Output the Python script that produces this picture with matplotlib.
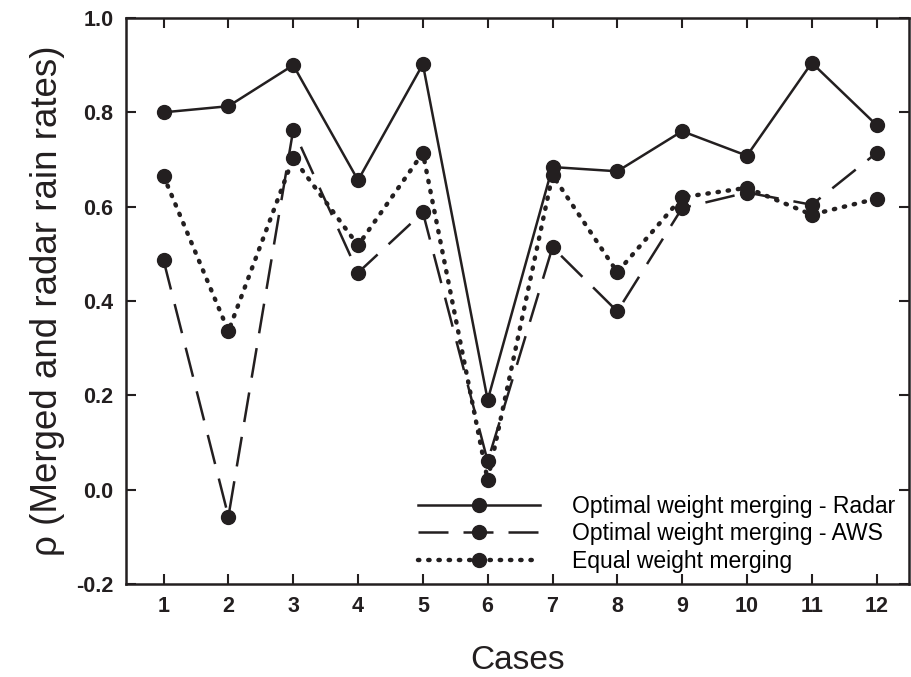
import matplotlib.pyplot as plt
import numpy as np

cases = list(range(1, 13))
radar = [0.80, 0.813, 0.90, 0.656, 0.902, 0.19, 0.684, 0.675, 0.76, 0.708, 0.905, 0.773]
aws = [0.486, -0.057, 0.763, 0.46, 0.588, 0.06, 0.514, 0.378, 0.597, 0.63, 0.604, 0.714]
equal = [0.665, 0.336, 0.703, 0.518, 0.714, 0.02, 0.667, 0.461, 0.62, 0.64, 0.583, 0.617]

labels = ["Optimal weight merging - Radar",
          "Optimal weight merging - AWS",
          "Equal weight merging"]

plt.rcParams['font.family'] = ['Liberation Sans', 'DejaVu Sans']
col = '#231f20'

fig = plt.figure(figsize=(9.11, 6.77), dpi=100)
ax = fig.add_axes([126 / 911, 1 - 584 / 677, (909 - 126) / 911, (584 - 18) / 677])

ax.plot(cases, radar, color=col, lw=1.8, ls='-', marker='o', ms=10, label=labels[0])
ax.plot(cases, aws, color=col, lw=1.8, ls=(0, (12, 6)), marker='o', ms=10, label=labels[1])
ax.plot(cases, equal, color=col, lw=3.2, ls=(0, (0.3, 2.0)), dash_capstyle='round',
        marker='o', ms=10, label=labels[2])

ax.set_xlim(0.42, 12.5)
ax.set_ylim(-0.2, 1.0)
ax.set_xticks(cases)
ax.set_yticks(np.arange(-0.2, 1.01, 0.2))
ax.set_yticklabels([f"{v:.1f}" for v in np.arange(-0.2, 1.01, 0.2)])

for s in ax.spines.values():
    s.set_linewidth(1.8)
    s.set_color(col)
ax.tick_params(direction='in', length=7, width=1.5, top=True, right=True,
               labelsize=15.5, colors=col, pad=9)
for t in ax.get_xticklabels() + ax.get_yticklabels():
    t.set_fontweight('bold')

ax.set_xlabel("Cases", fontsize=24, color=col, labelpad=20)
ax.set_ylabel("ρ (Merged and radar rain rates)", fontsize=26.5, color=col, labelpad=8)

leg = ax.legend(loc='lower right', frameon=False, fontsize=16.5, handlelength=5.3,
                handletextpad=1.4, labelspacing=0.2,
                bbox_to_anchor=(1.0, -0.005), borderaxespad=0.2)

fig.savefig("out.png", dpi=100)
